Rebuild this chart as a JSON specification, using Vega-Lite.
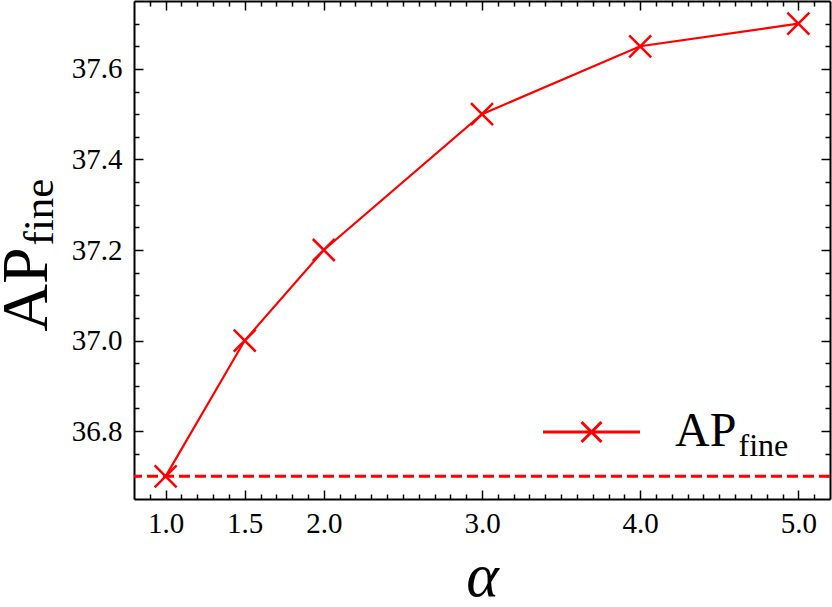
{
  "$schema": "https://vega.github.io/schema/vega-lite/v6.json",
  "width": 696,
  "height": 498,
  "autosize": {"type": "none"},
  "padding": {"left": 134, "top": 1, "right": 2, "bottom": 108},
  "background": "white",
  "datasets": {
    "main": [
      {"alpha": 1.0, "ap": 36.7, "series": "AP_fine"},
      {"alpha": 1.5, "ap": 37.0, "series": "AP_fine"},
      {"alpha": 2.0, "ap": 37.2, "series": "AP_fine"},
      {"alpha": 3.0, "ap": 37.5, "series": "AP_fine"},
      {"alpha": 4.0, "ap": 37.65, "series": "AP_fine"},
      {"alpha": 5.0, "ap": 37.7, "series": "AP_fine"}
    ],
    "baseline": [{"ap": 36.7}]
  },
  "resolve": {
    "scale": {"x": "shared", "y": "shared"},
    "axis": {"x": "independent", "y": "independent"}
  },
  "layer": [
    {
      "data": {"name": "main"},
      "mark": {"type": "line", "strokeWidth": 2.2, "color": "#ff0000"},
      "encoding": {
        "x": {
          "field": "alpha", "type": "quantitative",
          "scale": {"domain": [0.8, 5.2], "nice": false, "zero": false},
          "axis": {
            "orient": "bottom", "values": [1, 1.5, 2, 3, 4, 5], "format": ".1f",
            "tickSize": -9, "tickWidth": 1.5, "tickColor": "black",
            "domain": true, "domainColor": "black", "domainWidth": 2,
            "labelFont": "Liberation Serif", "labelFontSize": 29, "labelColor": "black",
            "labelPadding": 19, "labelFlush": false, "grid": false,
            "title": "α", "titleFont": "Liberation Serif", "titleFontStyle": "italic",
            "titleFontSize": 62, "titleFontWeight": "normal", "titleColor": "black",
            "titleX": 348, "titleY": 96, "titleAlign": "center", "titleBaseline": "alphabetic"
          }
        },
        "y": {
          "field": "ap", "type": "quantitative",
          "scale": {"domain": [36.65, 37.75], "nice": false, "zero": false},
          "axis": {
            "orient": "left", "values": [36.8, 37.0, 37.2, 37.4, 37.6], "format": ".1f",
            "tickSize": -9, "tickWidth": 1.5, "tickColor": "black",
            "domain": true, "domainColor": "black", "domainWidth": 2,
            "labelFont": "Liberation Serif", "labelFontSize": 29, "labelColor": "black",
            "labelPadding": 21, "labelFlush": false, "grid": false,
            "title": "AP", "titleFont": "Liberation Serif", "titleFontSize": 66,
            "titleFontWeight": "normal", "titleColor": "black", "titleAngle": 270,
            "titleX": -88, "titleY": 288, "titleAlign": "center", "titleBaseline": "alphabetic"
          }
        },
        "color": {
          "field": "series", "type": "nominal",
          "scale": {"range": ["#ff0000"]},
          "legend": {
            "orient": "none", "legendX": 433.5, "legendY": 407,
            "padding": 0, "offset": 0,
            "labelExpr": "'AP'",
            "symbolType": "M-4.85,0H4.85M-1,-1L1,1M-1,1L1,-1",
            "symbolSize": 400, "symbolStrokeWidth": 3,
            "symbolFillColor": "transparent", "symbolStrokeColor": "#ff0000",
            "labelFont": "Liberation Serif", "labelFontSize": 48, "labelColor": "black",
            "labelOffset": 59.5,
            "title": "fine", "titleOrient": "right", "titleAnchor": "end",
            "titleBaseline": "alphabetic",
            "titleFont": "Liberation Serif", "titleFontSize": 32, "titleFontWeight": "normal",
            "titleColor": "black", "titlePadding": 2
          }
        }
      }
    },
    {
      "data": {"name": "main"},
      "mark": {
        "type": "point", "shape": "M-1,-1L1,1M-1,1L1,-1", "filled": false,
        "size": 484, "strokeWidth": 2.5, "color": "#ff0000", "opacity": 1
      },
      "encoding": {
        "x": {
          "field": "alpha", "type": "quantitative",
          "axis": {
            "orient": "top", "values": [1, 1.5, 2, 3, 4, 5],
            "tickSize": -9, "tickWidth": 1.5, "tickColor": "black",
            "domain": true, "domainColor": "black", "domainWidth": 2,
            "labels": false, "grid": false, "title": null
          }
        },
        "y": {
          "field": "ap", "type": "quantitative",
          "axis": {
            "orient": "right", "values": [36.8, 37.0, 37.2, 37.4, 37.6],
            "tickSize": -9, "tickWidth": 1.5, "tickColor": "black",
            "domain": true, "domainColor": "black", "domainWidth": 2,
            "labels": false, "grid": false, "title": null
          }
        }
      }
    },
    {
      "data": {"name": "baseline"},
      "mark": {"type": "rule", "color": "#ff0000", "strokeWidth": 3, "strokeDash": [11, 5]},
      "encoding": {
        "y": {
          "field": "ap", "type": "quantitative",
          "axis": {
            "orient": "left",
            "values": [36.7, 36.75, 36.85, 36.9, 36.95, 37.05, 37.1, 37.15, 37.25, 37.3, 37.35, 37.45, 37.5, 37.55, 37.65, 37.7],
            "tickSize": -5, "tickWidth": 1.5, "tickColor": "black",
            "domain": false, "labels": false, "grid": false,
            "title": "fine", "titleFont": "Liberation Serif", "titleFontSize": 43,
            "titleFontWeight": "normal", "titleColor": "black", "titleAngle": 270,
            "titleX": -81.5, "titleY": 210.5, "titleAlign": "center", "titleBaseline": "alphabetic"
          }
        }
      }
    },
    {
      "data": {"name": "main"},
      "mark": {"type": "point", "opacity": 0},
      "encoding": {
        "x": {
          "field": "alpha", "type": "quantitative",
          "axis": {
            "orient": "bottom",
            "values": [0.9, 1.1, 1.2, 1.3, 1.4, 1.6, 1.7, 1.8, 1.9, 2.1, 2.2, 2.3, 2.4, 2.5, 2.6, 2.7, 2.8, 2.9, 3.1, 3.2, 3.3, 3.4, 3.5, 3.6, 3.7, 3.8, 3.9, 4.1, 4.2, 4.3, 4.4, 4.5, 4.6, 4.7, 4.8, 4.9, 5.1],
            "tickSize": -5, "tickWidth": 1.5, "tickColor": "black",
            "domain": false, "labels": false, "grid": false, "title": null
          }
        },
        "y": {
          "field": "ap", "type": "quantitative",
          "axis": {
            "orient": "right",
            "values": [36.7, 36.75, 36.85, 36.9, 36.95, 37.05, 37.1, 37.15, 37.25, 37.3, 37.35, 37.45, 37.5, 37.55, 37.65, 37.7],
            "tickSize": -5, "tickWidth": 1.5, "tickColor": "black",
            "domain": false, "labels": false, "grid": false, "title": null
          }
        }
      }
    },
    {
      "data": {"name": "main"},
      "mark": {"type": "rule", "opacity": 0},
      "encoding": {
        "x": {
          "field": "alpha", "type": "quantitative",
          "axis": {
            "orient": "top",
            "values": [0.9, 1.1, 1.2, 1.3, 1.4, 1.6, 1.7, 1.8, 1.9, 2.1, 2.2, 2.3, 2.4, 2.5, 2.6, 2.7, 2.8, 2.9, 3.1, 3.2, 3.3, 3.4, 3.5, 3.6, 3.7, 3.8, 3.9, 4.1, 4.2, 4.3, 4.4, 4.5, 4.6, 4.7, 4.8, 4.9, 5.1],
            "tickSize": -5, "tickWidth": 1.5, "tickColor": "black",
            "domain": false, "labels": false, "grid": false, "title": null
          }
        }
      }
    }
  ],
  "config": {
    "view": {"stroke": null},
    "font": "Liberation Serif"
  }
}
